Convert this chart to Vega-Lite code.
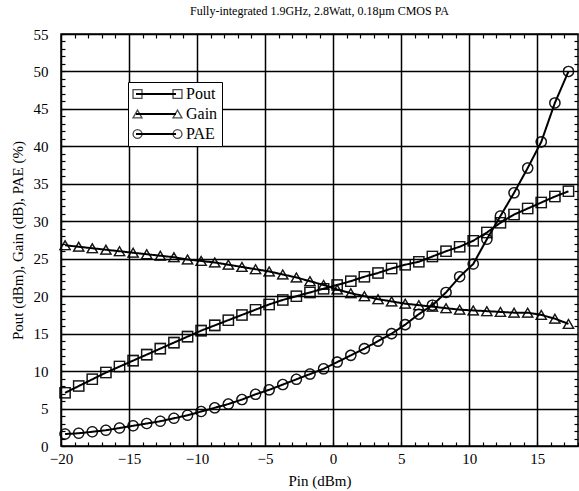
{
  "$schema": "https://vega.github.io/schema/vega-lite/v6.json",
  "width": 517,
  "height": 412,
  "autosize": {"type": "none"},
  "padding": {"left": 61, "top": 34, "right": 1, "bottom": 45},
  "background": "white",
  "title": {"text": "Fully-integrated 1.9GHz, 2.8Watt, 0.18µm CMOS PA", "font": "Liberation Serif", "fontSize": 12, "fontWeight": "normal", "color": "black", "offset": 9},
  "config": {
    "view": {"stroke": "black", "strokeWidth": 1.5},
    "axis": {
      "labelFont": "Liberation Serif", "labelFontSize": 15, "labelColor": "black",
      "titleFont": "Liberation Serif", "titleFontSize": 15, "titleFontWeight": "normal", "titleColor": "black",
      "domain": false, "tickColor": "black", "tickWidth": 1.2, "tickSize": -4,
      "gridColor": "black", "gridWidth": 1.5,
      "gridOpacity": {"condition": {"test": "datum.value % 5 !== 0", "value": 0}, "value": 1},
      "labelOverlap": false, "labelBound": false, "labelFlush": false
    },
    "legend": {"labelFont": "Liberation Serif", "labelFontSize": 16, "labelColor": "black", "rowPadding": 4, "title": null, "orient": "none"}
  },
  "datasets": {
    "pa": [
      {"Pin": -19.7, "Series": "Pout", "Value": 7.1}, {"Pin": -18.7, "Series": "Pout", "Value": 8.0}, {"Pin": -17.7, "Series": "Pout", "Value": 8.9}, {"Pin": -16.7, "Series": "Pout", "Value": 9.8}, {"Pin": -15.7, "Series": "Pout", "Value": 10.6}, {"Pin": -14.7, "Series": "Pout", "Value": 11.4}, {"Pin": -13.7, "Series": "Pout", "Value": 12.2}, {"Pin": -12.7, "Series": "Pout", "Value": 13.0}, {"Pin": -11.7, "Series": "Pout", "Value": 13.8}, {"Pin": -10.7, "Series": "Pout", "Value": 14.6},
      {"Pin": -9.7, "Series": "Pout", "Value": 15.4}, {"Pin": -8.7, "Series": "Pout", "Value": 16.1}, {"Pin": -7.7, "Series": "Pout", "Value": 16.8}, {"Pin": -6.7, "Series": "Pout", "Value": 17.5}, {"Pin": -5.7, "Series": "Pout", "Value": 18.2}, {"Pin": -4.7, "Series": "Pout", "Value": 18.9}, {"Pin": -3.7, "Series": "Pout", "Value": 19.5}, {"Pin": -2.7, "Series": "Pout", "Value": 20.0}, {"Pin": -1.7, "Series": "Pout", "Value": 20.5}, {"Pin": -0.7, "Series": "Pout", "Value": 21.0},
      {"Pin": 0.3, "Series": "Pout", "Value": 21.5}, {"Pin": 1.3, "Series": "Pout", "Value": 22.0}, {"Pin": 2.3, "Series": "Pout", "Value": 22.6}, {"Pin": 3.3, "Series": "Pout", "Value": 23.1}, {"Pin": 4.3, "Series": "Pout", "Value": 23.7}, {"Pin": 5.3, "Series": "Pout", "Value": 24.2}, {"Pin": 6.3, "Series": "Pout", "Value": 24.6}, {"Pin": 7.3, "Series": "Pout", "Value": 25.3}, {"Pin": 8.3, "Series": "Pout", "Value": 26.0}, {"Pin": 9.3, "Series": "Pout", "Value": 26.6},
      {"Pin": 10.3, "Series": "Pout", "Value": 27.4}, {"Pin": 11.3, "Series": "Pout", "Value": 28.5}, {"Pin": 12.3, "Series": "Pout", "Value": 29.8}, {"Pin": 13.3, "Series": "Pout", "Value": 30.9}, {"Pin": 14.3, "Series": "Pout", "Value": 31.7}, {"Pin": 15.3, "Series": "Pout", "Value": 32.5}, {"Pin": 16.3, "Series": "Pout", "Value": 33.3}, {"Pin": 17.3, "Series": "Pout", "Value": 34.0},

      {"Pin": -19.7, "Series": "Gain", "Value": 26.8}, {"Pin": -18.7, "Series": "Gain", "Value": 26.6}, {"Pin": -17.7, "Series": "Gain", "Value": 26.4}, {"Pin": -16.7, "Series": "Gain", "Value": 26.2}, {"Pin": -15.7, "Series": "Gain", "Value": 26.0}, {"Pin": -14.7, "Series": "Gain", "Value": 25.8}, {"Pin": -13.7, "Series": "Gain", "Value": 25.6}, {"Pin": -12.7, "Series": "Gain", "Value": 25.4}, {"Pin": -11.7, "Series": "Gain", "Value": 25.2}, {"Pin": -10.7, "Series": "Gain", "Value": 24.9},
      {"Pin": -9.7, "Series": "Gain", "Value": 24.7}, {"Pin": -8.7, "Series": "Gain", "Value": 24.5}, {"Pin": -7.7, "Series": "Gain", "Value": 24.2}, {"Pin": -6.7, "Series": "Gain", "Value": 23.9}, {"Pin": -5.7, "Series": "Gain", "Value": 23.6}, {"Pin": -4.7, "Series": "Gain", "Value": 23.3}, {"Pin": -3.7, "Series": "Gain", "Value": 22.9}, {"Pin": -2.7, "Series": "Gain", "Value": 22.5}, {"Pin": -1.7, "Series": "Gain", "Value": 22.0}, {"Pin": -0.7, "Series": "Gain", "Value": 21.5},
      {"Pin": 0.3, "Series": "Gain", "Value": 20.9}, {"Pin": 1.3, "Series": "Gain", "Value": 20.4}, {"Pin": 2.3, "Series": "Gain", "Value": 20.0}, {"Pin": 3.3, "Series": "Gain", "Value": 19.6}, {"Pin": 4.3, "Series": "Gain", "Value": 19.3}, {"Pin": 5.3, "Series": "Gain", "Value": 19.0}, {"Pin": 6.3, "Series": "Gain", "Value": 18.8}, {"Pin": 7.3, "Series": "Gain", "Value": 18.6}, {"Pin": 8.3, "Series": "Gain", "Value": 18.4}, {"Pin": 9.3, "Series": "Gain", "Value": 18.2},
      {"Pin": 10.3, "Series": "Gain", "Value": 18.1}, {"Pin": 11.3, "Series": "Gain", "Value": 18.0}, {"Pin": 12.3, "Series": "Gain", "Value": 17.9}, {"Pin": 13.3, "Series": "Gain", "Value": 17.8}, {"Pin": 14.3, "Series": "Gain", "Value": 17.8}, {"Pin": 15.3, "Series": "Gain", "Value": 17.5}, {"Pin": 16.3, "Series": "Gain", "Value": 17.0}, {"Pin": 17.3, "Series": "Gain", "Value": 16.3},

      {"Pin": -19.7, "Series": "PAE", "Value": 1.6}, {"Pin": -18.7, "Series": "PAE", "Value": 1.7}, {"Pin": -17.7, "Series": "PAE", "Value": 1.9}, {"Pin": -16.7, "Series": "PAE", "Value": 2.1}, {"Pin": -15.7, "Series": "PAE", "Value": 2.4}, {"Pin": -14.7, "Series": "PAE", "Value": 2.7}, {"Pin": -13.7, "Series": "PAE", "Value": 3.0}, {"Pin": -12.7, "Series": "PAE", "Value": 3.3}, {"Pin": -11.7, "Series": "PAE", "Value": 3.7}, {"Pin": -10.7, "Series": "PAE", "Value": 4.1},
      {"Pin": -9.7, "Series": "PAE", "Value": 4.6}, {"Pin": -8.7, "Series": "PAE", "Value": 5.1}, {"Pin": -7.7, "Series": "PAE", "Value": 5.6}, {"Pin": -6.7, "Series": "PAE", "Value": 6.2}, {"Pin": -5.7, "Series": "PAE", "Value": 6.9}, {"Pin": -4.7, "Series": "PAE", "Value": 7.5}, {"Pin": -3.7, "Series": "PAE", "Value": 8.2}, {"Pin": -2.7, "Series": "PAE", "Value": 8.9}, {"Pin": -1.7, "Series": "PAE", "Value": 9.6}, {"Pin": -0.7, "Series": "PAE", "Value": 10.3},
      {"Pin": 0.3, "Series": "PAE", "Value": 11.2}, {"Pin": 1.3, "Series": "PAE", "Value": 12.1}, {"Pin": 2.3, "Series": "PAE", "Value": 13.0}, {"Pin": 3.3, "Series": "PAE", "Value": 14.0}, {"Pin": 4.3, "Series": "PAE", "Value": 15.0}, {"Pin": 5.3, "Series": "PAE", "Value": 16.2}, {"Pin": 6.3, "Series": "PAE", "Value": 17.6}, {"Pin": 7.3, "Series": "PAE", "Value": 18.8}, {"Pin": 8.3, "Series": "PAE", "Value": 20.5}, {"Pin": 9.3, "Series": "PAE", "Value": 22.6},
      {"Pin": 10.3, "Series": "PAE", "Value": 24.3}, {"Pin": 11.3, "Series": "PAE", "Value": 27.6}, {"Pin": 12.3, "Series": "PAE", "Value": 30.7}, {"Pin": 13.3, "Series": "PAE", "Value": 33.8}, {"Pin": 14.3, "Series": "PAE", "Value": 37.1}, {"Pin": 15.3, "Series": "PAE", "Value": 40.6}, {"Pin": 16.3, "Series": "PAE", "Value": 45.8}, {"Pin": 17.3, "Series": "PAE", "Value": 50.0}
    ]
  },
  "data": {"name": "pa"},
  "layer": [
    {
      "mark": {"type": "line", "color": "black", "strokeWidth": 2},
      "encoding": {
        "x": {"field": "Pin", "type": "quantitative", "scale": {"domain": [-20, 18], "nice": false, "zero": false},
              "axis": {"title": "Pin (dBm)", "values": [-20,-19,-18,-17,-16,-15,-14,-13,-12,-11,-10,-9,-8,-7,-6,-5,-4,-3,-2,-1,0,1,2,3,4,5,6,7,8,9,10,11,12,13,14,15,16,17,18],
                       "labelExpr": "datum.value % 5 === 0 ? datum.label : ''", "labelPadding": 9, "titlePadding": 7}},
        "y": {"field": "Value", "type": "quantitative", "scale": {"domain": [0, 55], "nice": false},
              "axis": {"title": "Pout (dBm), Gain (dB), PAE (%)", "values": [0,1,2,3,4,5,6,7,8,9,10,11,12,13,14,15,16,17,18,19,20,21,22,23,24,25,26,27,28,29,30,31,32,33,34,35,36,37,38,39,40,41,42,43,44,45,46,47,48,49,50,51,52,53,54,55],
                       "labelExpr": "datum.value % 5 === 0 ? datum.label : ''", "labelPadding": 17, "titlePadding": 8}},
        "strokeDash": {"field": "Series", "type": "nominal",
                       "scale": {"domain": ["Pout", "Gain", "PAE"], "range": [[1, 0], [1, 0], [1, 0]]},
                       "legend": {"legendX": 67, "legendY": 48, "strokeColor": "black", "padding": 4, "fillColor": "white",
                                  "symbolType": "M-3.33,0H3.33", "symbolSize": 144, "symbolOffset": 16, "symbolStrokeWidth": 2, "symbolStrokeColor": "black", "labelOffset": 22}}
      }
    },
    {
      "mark": {"type": "point", "filled": false, "color": "black", "strokeWidth": 1.3, "size": 105},
      "encoding": {
        "x": {"field": "Pin", "type": "quantitative", "axis": null},
        "y": {"field": "Value", "type": "quantitative", "axis": null},
        "shape": {"field": "Series", "type": "nominal",
                  "scale": {"domain": ["Pout", "Gain", "PAE"], "range": ["square", "triangle-up", "circle"]},
                  "legend": {"legendX": 68.5, "legendY": 52, "padding": 0, "symbolSize": 80, "symbolStrokeColor": "black", "symbolStrokeWidth": 1.3, "symbolFillColor": "white", "labelExpr": "' '"}}
      }
    },
    {
      "mark": {"type": "point", "filled": false, "color": "black", "strokeWidth": 1.3, "size": 105},
      "encoding": {
        "x": {"field": "Pin", "type": "quantitative", "axis": null},
        "y": {"field": "Value", "type": "quantitative", "axis": null},
        "shape": {"field": "Series", "type": "nominal",
                  "scale": {"domain": ["Pout", "Gain", "PAE"], "range": ["square", "triangle-up", "circle"]},
                  "legend": {"legendX": 108.5, "legendY": 52, "padding": 0, "symbolSize": 80, "symbolStrokeColor": "black", "symbolStrokeWidth": 1.3, "symbolFillColor": "white", "labelExpr": "' '"}}
      }
    },
    {
      "mark": {"type": "point", "opacity": 0},
      "encoding": {
        "x": {"field": "Pin", "type": "quantitative",
              "axis": {"orient": "top", "title": null, "labels": false, "grid": false, "values": [-19,-18,-17,-16,-14,-13,-12,-11,-9,-8,-7,-6,-4,-3,-2,-1,1,2,3,4,6,7,8,9,11,12,13,14,16,17]}},
        "y": {"field": "Value", "type": "quantitative",
              "axis": {"orient": "right", "title": null, "labels": false, "grid": false, "values": [1,2,3,4,6,7,8,9,11,12,13,14,16,17,18,19,21,22,23,24,26,27,28,29,31,32,33,34,36,37,38,39,41,42,43,44,46,47,48,49,51,52,53,54]}}
      }
    }
  ],
  "resolve": {"axis": {"x": "independent", "y": "independent"}, "scale": {"shape": "independent"}}
}
